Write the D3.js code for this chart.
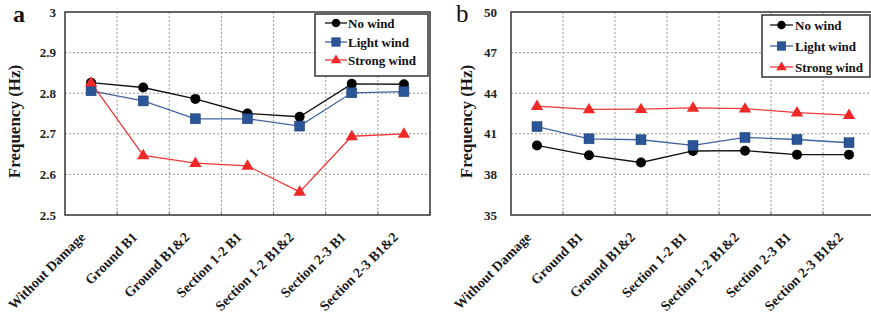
<!DOCTYPE html>
<html><head><meta charset="utf-8">
<script src="https://cdn.jsdelivr.net/npm/d3@7"></script>
<style>body{margin:0;background:#fff}svg{display:block}text{font-family:"Liberation Serif","Times New Roman",serif;font-weight:bold}</style>
</head><body><svg id="c" width="871" height="320"></svg>
<script>
const categories = ["Without Damage","Ground B1","Ground B1&2","Section 1-2 B1","Section 1-2 B1&2","Section 2-3 B1","Section 2-3 B1&2"];
const seriesNames = ["No wind","Light wind","Strong wind"];
const aNoWind = [2.826,2.814,2.786,2.750,2.742,2.823,2.822];
const aLightWind = [2.806,2.781,2.737,2.737,2.719,2.801,2.804];
const aStrongWind = [2.826,2.647,2.628,2.621,2.557,2.694,2.700];
const bNoWind = [40.14,39.41,38.88,39.73,39.75,39.46,39.46];
const bLightWind = [41.53,40.63,40.56,40.14,40.73,40.58,40.34];
const bStrongWind = [43.05,42.80,42.82,42.92,42.86,42.57,42.38];
const aTicks = [2.5,2.6,2.7,2.8,2.9,3];
const bTicks = [35,38,41,44,47,50];

const colors = ["#111","#3f64a0","#f03838"];
const markerFill = ["#000","#2a5596","#f02828"];
const svg = d3.select("#c");

function panel(opt){
  const g = svg.append("g");
  const x = d3.scaleBand().domain(categories).range([opt.left,opt.right]);
  const y = d3.scaleLinear().domain([opt.ticks[0],opt.ticks[opt.ticks.length-1]]).range([opt.bottom,opt.top]);
  g.selectAll(".hg").data(opt.ticks.slice(1,-1)).join("line")
    .attr("x1",opt.left).attr("x2",opt.right).attr("y1",d=>y(d)).attr("y2",d=>y(d))
    .attr("stroke","#9a9a9a").attr("stroke-width",1).attr("stroke-dasharray","2,2");
  g.selectAll(".vg").data(categories.slice(1)).join("line")
    .attr("x1",d=>x(d)).attr("x2",d=>x(d)).attr("y1",opt.top).attr("y2",opt.bottom)
    .attr("stroke","#9a9a9a").attr("stroke-width",1).attr("stroke-dasharray","2,2");
  const ya = d3.axisLeft(y).tickValues(opt.ticks).tickFormat(opt.fmt).tickSize(0).tickPadding(opt.pad);
  const yg = g.append("g").attr("transform",`translate(${opt.left},0)`).call(ya);
  yg.select(".domain").remove();
  yg.selectAll("text").attr("font-size",13).attr("fill","#222").style("font-family","Liberation Serif").style("font-weight","bold");
  const xa = d3.axisBottom(x).tickSize(4).tickFormat("");
  const xg = g.append("g").attr("transform",`translate(0,${opt.bottom})`).call(xa);
  xg.select(".domain").remove();
  xg.selectAll(".tick line").attr("stroke","#888").attr("transform",`translate(${x.bandwidth()/2},-4)`);
  g.selectAll(".xl").data(categories).join("text")
    .attr("transform",d=>`translate(${x(d)+x.bandwidth()/2-5},${opt.bottom+23}) rotate(-45)`)
    .attr("text-anchor","end").attr("font-size",14).attr("fill","#1a1a1a").text(d=>d);
  g.append("rect").attr("x",opt.left).attr("y",opt.top).attr("width",opt.right-opt.left).attr("height",opt.bottom-opt.top)
    .attr("fill","none").attr("stroke","#333").attr("stroke-width",1.5);
  const line = d3.line().x((d,i)=>x(categories[i])+x.bandwidth()/2).y(d=>y(d));
  opt.series.forEach((vals,si)=>{
    g.append("path").datum(vals).attr("d",line).attr("fill","none").attr("stroke",colors[si]).attr("stroke-width",1.3);
  });
  opt.series.forEach((vals,si)=>{
    vals.forEach((v,i)=>drawMarker(g,si,x(categories[i])+x.bandwidth()/2,y(v),1));
  });
  g.append("text").attr("transform",`translate(${opt.ylx},${(opt.top+opt.bottom)/2+8}) rotate(-90)`)
    .attr("text-anchor","middle").attr("font-size",17).attr("fill","#1a1a1a").text("Frequency (Hz)");
  g.append("text").attr("x",opt.letterX).attr("y",22).attr("font-size",opt.letterSize).style("font-weight",opt.letterWeight).attr("fill","#111").text(opt.letter);
  const L = opt.legend;
  g.append("rect").attr("x",L.x).attr("y",L.y).attr("width",L.w).attr("height",L.h).attr("fill","#fff").attr("stroke","#333").attr("stroke-width",1.5);
  seriesNames.forEach((n,si)=>{
    const yy = L.rows[si];
    g.append("line").attr("x1",L.lx1).attr("x2",L.lx2).attr("y1",yy).attr("y2",yy).attr("stroke",colors[si]).attr("stroke-width",1.3);
    drawMarker(g,si,(L.lx1+L.lx2)/2,yy,0.85);
    g.append("text").attr("x",L.tx).attr("y",yy+4.5).attr("font-size",L.fs).attr("fill","#111").text(n);
  });
}
function drawMarker(g,si,cx,cy,s){
  if(si===0){
    g.append("circle").attr("cx",cx).attr("cy",cy).attr("r",5*s).attr("fill",markerFill[0]);
  } else if(si===1){
    const w=10*s;
    g.append("rect").attr("x",cx-w/2).attr("y",cy-w/2).attr("width",w).attr("height",w).attr("fill",markerFill[1]).attr("stroke","#1d3f78").attr("stroke-width",0.5);
  } else {
    const r=6.5*s;
    g.append("path").attr("d",`M${cx},${cy-r}L${cx+r*0.95},${cy+r*0.6}L${cx-r*0.95},${cy+r*0.6}Z`).attr("fill",markerFill[2]);
  }
}
panel({left:65,right:430,top:12,bottom:215,ticks:aTicks,fmt:d=>d===3?"3":d3.format(".1f")(d),pad:9,
  series:[aNoWind,aLightWind,aStrongWind],ylx:20,letter:"a",letterX:13,letterSize:24,letterWeight:"bold",
  legend:{x:315,y:14,w:113,h:62,rows:[23,42,60],lx1:325,lx2:347,tx:348,fs:13}});
panel({left:511,right:875,top:12,bottom:215,ticks:bTicks,fmt:d3.format("d"),pad:14,
  series:[bNoWind,bLightWind,bStrongWind],ylx:472,letter:"b",letterX:456,letterSize:25,letterWeight:"normal",
  legend:{x:762,y:15,w:108,h:62,rows:[25,46,67],lx1:770,lx2:793,tx:795,fs:13}});
</script></body></html>
